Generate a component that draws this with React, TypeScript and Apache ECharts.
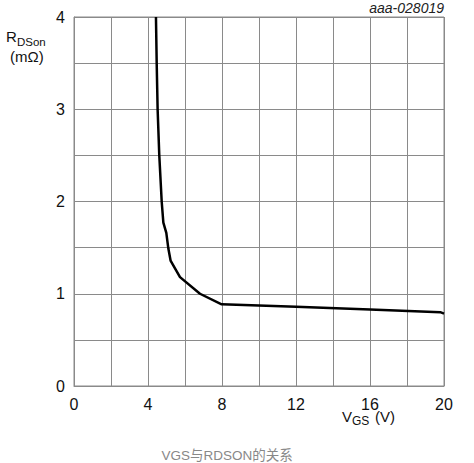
import React, { useEffect, useRef } from "react";
import * as echarts from "echarts";

// Gate-source voltage (V) and on-state resistance (mΩ)
const vgs = [4.43, 4.47, 4.52, 4.61, 4.74, 4.83, 4.99, 5.1, 5.22, 5.73, 6.81, 7.98, 12, 16, 19.8, 20];
const rdson = [4.0, 3.5, 3.0, 2.5, 2.0, 1.77, 1.66, 1.49, 1.36, 1.18, 1.0, 0.885, 0.86, 0.83, 0.8, 0.785];

const xTicks = [0, 4, 8, 12, 16, 20];
const yTicks = [0, 1, 2, 3, 4];

const FONT = "Liberation Sans, Arial, sans-serif";
const GRID = "#8a8a8a";

export default function App() {
  const ref = useRef<HTMLDivElement>(null);

  useEffect(() => {
    if (!ref.current) return;
    const chart = echarts.init(ref.current, null, { renderer: "svg" });
    const points = vgs.map((v, i) => [v, rdson[i]]);
    chart.setOption({
      animation: false,
      backgroundColor: "#ffffff",
      grid: {
        left: 74,
        top: 17,
        width: 370,
        height: 369,
        show: true,
        borderColor: GRID,
        borderWidth: 1,
      },
      xAxis: {
        type: "value",
        min: 0,
        max: 20,
        interval: 2,
        axisLine: { show: true, lineStyle: { color: GRID, width: 1 } },
        axisTick: { show: false },
        splitLine: { show: true, lineStyle: { color: GRID, width: 1 } },
        axisLabel: {
          color: "#111",
          fontFamily: FONT,
          fontSize: 16,
          margin: 10,
          formatter: (v: number) => (xTicks.includes(v) ? String(v) : ""),
        },
      },
      yAxis: {
        type: "value",
        min: 0,
        max: 4,
        interval: 0.5,
        axisLine: { show: true, lineStyle: { color: GRID, width: 1 } },
        axisTick: { show: false },
        splitLine: { show: true, lineStyle: { color: GRID, width: 1 } },
        axisLabel: {
          color: "#111",
          fontFamily: FONT,
          fontSize: 16,
          margin: 9,
          formatter: (v: number) => (yTicks.includes(v) ? String(v) : ""),
        },
      },
      series: [
        {
          type: "line",
          data: points,
          showSymbol: false,
          lineStyle: { color: "#000", width: 2.5 },
          clip: true,
        },
      ],
      graphic: [
        { type: "text", left: 6, top: 29, style: { text: "R", font: `15px ${FONT}`, fill: "#111" } },
        { type: "text", left: 17, top: 36, style: { text: "DSon", font: `11.5px ${FONT}`, fill: "#111" } },
        { type: "text", left: 10, top: 49, style: { text: "(mΩ)", font: `15px ${FONT}`, fill: "#111" } },
        { type: "text", left: 342, top: 409, style: { text: "V", font: `15px ${FONT}`, fill: "#111" } },
        { type: "text", left: 352, top: 415, style: { text: "GS", font: `12px ${FONT}`, fill: "#111" } },
        { type: "text", left: 375, top: 409, style: { text: "(V)", font: `15px ${FONT}`, fill: "#111" } },
        { type: "text", right: 30, top: 1, style: { text: "aaa-028019", font: `italic 14px ${FONT}`, fill: "#222" } },
        {
          type: "text",
          x: 227,
          y: 455,
          style: {
            text: "VGS与RDSON的关系",
            font: `13.5px ${FONT}, "Noto Sans CJK SC"`,
            fill: "#888",
            textAlign: "center",
            textVerticalAlign: "middle",
          },
        },
      ],
    });
    return () => chart.dispose();
  }, []);

  return <div ref={ref} style={{ width: 474, height: 463, position: "absolute", left: 0, top: 0 }} />;
}
